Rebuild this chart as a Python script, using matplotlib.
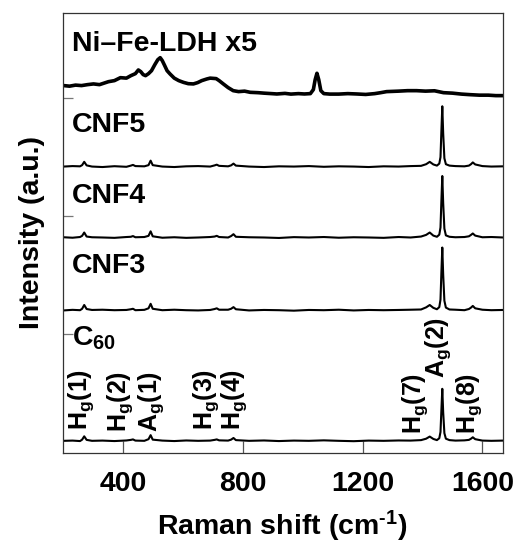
import matplotlib

matplotlib.use("Agg")

import matplotlib.pyplot as plt


plt.rcParams["font.family"] = ["Liberation Sans", "DejaVu Sans"]
plt.rcParams["font.weight"] = "bold"
plt.rcParams["mathtext.fontset"] = "custom"
plt.rcParams["mathtext.rm"] = "Liberation Sans:bold"
plt.rcParams["mathtext.it"] = "Liberation Sans:bold"
plt.rcParams["mathtext.bf"] = "Liberation Sans:bold"
plt.rcParams["mathtext.default"] = "regular"


# Raman shift grid shared by the C60 and CNF spectra (cm-1)
shift_grid = [200, 230, 255, 262, 269, 277, 295,
              330, 370, 410, 425, 432, 440,
              470, 484, 491, 498, 530,
              570, 610, 650, 690, 705, 712, 720,
              750, 760, 768, 776, 820,
              870, 920, 970, 1020, 1070, 1120, 1170, 1220, 1270, 1320,
              1360, 1395, 1412, 1424, 1436, 1448, 1456, 1460, 1463, 1466,
              1469, 1473, 1478, 1490, 1510, 1540, 1555, 1562, 1568, 1576,
              1600, 1630, 1670]

cnf5_int = [0.000, 0.004, 0.002, 0.012, 0.040, 0.010, 0.000,
            -0.004, 0.003, -0.002, 0.008, 0.014, 0.004,
            0.002, 0.012, 0.050, 0.012, 0.000,
            -0.004, 0.002, 0.004, 0.000, 0.010, 0.016, 0.006,
            0.002, 0.010, 0.025, 0.008, 0.000,
            -0.004, 0.002, 0.000, 0.004, -0.002, 0.002, 0.000, -0.004, 0.002, 0.000,
            0.004, 0.006, 0.020, 0.040, 0.018, 0.008, 0.025, 0.080, 0.300, 0.510,
            0.280, 0.070, 0.020, 0.008, 0.004, 0.002, 0.008, 0.020, 0.035, 0.018,
            0.004, 0.000, 0.002]

cnf4_int = [0.002, -0.002, 0.004, 0.014, 0.042, 0.008, 0.002,
            0.000, -0.003, 0.004, 0.006, 0.012, 0.002,
            0.004, 0.014, 0.052, 0.010, -0.002,
            0.002, -0.003, 0.000, 0.004, 0.008, 0.014, 0.004,
            0.000, 0.012, 0.028, 0.006, 0.002,
            0.000, -0.004, 0.003, 0.000, 0.004, -0.002, 0.002, 0.000, -0.003, 0.004,
            0.000, 0.008, 0.022, 0.042, 0.016, 0.006, 0.024, 0.085, 0.310, 0.520,
            0.290, 0.075, 0.018, 0.006, 0.002, 0.004, 0.010, 0.022, 0.034, 0.016,
            0.002, 0.004, 0.000]

cnf3_int = [-0.002, 0.003, 0.000, 0.012, 0.044, 0.010, 0.002,
            0.004, 0.000, 0.002, 0.008, 0.012, 0.000,
            0.003, 0.016, 0.054, 0.012, 0.000,
            0.004, 0.000, -0.002, 0.002, 0.010, 0.016, 0.004,
            0.004, 0.012, 0.026, 0.008, -0.002,
            0.002, 0.000, -0.004, 0.002, 0.000, 0.004, -0.002, 0.002, 0.000, 0.002,
            0.004, 0.006, 0.024, 0.044, 0.020, 0.008, 0.026, 0.090, 0.320, 0.530,
            0.300, 0.080, 0.022, 0.006, 0.004, 0.000, 0.010, 0.022, 0.036, 0.016,
            0.004, 0.000, 0.002]

c60_int = [0.000, 0.002, -0.002, 0.010, 0.038, 0.008, 0.000,
           0.002, -0.002, 0.003, 0.008, 0.012, 0.002,
           0.000, 0.014, 0.048, 0.010, 0.002,
           -0.002, 0.003, 0.000, 0.002, 0.008, 0.012, 0.004,
           0.002, 0.010, 0.024, 0.006, 0.000,
           0.003, -0.002, 0.002, 0.000, 0.004, 0.000, -0.003, 0.002, 0.000, 0.003,
           0.002, 0.006, 0.018, 0.036, 0.016, 0.006, 0.022, 0.075, 0.260, 0.440,
           0.240, 0.065, 0.018, 0.006, 0.002, 0.004, 0.008, 0.018, 0.030, 0.014,
           0.002, 0.000, 0.002]

# Ni-Fe-LDH spectrum (already magnified x5)
ldh_shift = [200, 220, 240, 260, 280, 300, 320, 350, 370, 390,
             410, 425, 440, 450, 458, 466, 474, 484, 494, 505,
             515, 523, 530, 538, 546, 556, 570, 585, 601, 617,
             634, 648, 662, 679, 690, 700, 710, 720, 734, 750,
             767, 785, 805, 824, 850, 870, 895, 913, 940, 960,
             985, 1005, 1025, 1035, 1041, 1047, 1053, 1060, 1070, 1090,
             1120, 1150, 1180, 1210, 1240, 1260, 1280, 1300, 1320, 1350,
             1380, 1410, 1440, 1470, 1500, 1530, 1560, 1590, 1620, 1645,
             1670]
ldh_int = [0.085, 0.080, 0.089, 0.085, 0.093, 0.099, 0.093, 0.118, 0.127, 0.152,
           0.148, 0.169, 0.186, 0.217, 0.203, 0.178, 0.169, 0.186, 0.211, 0.262,
           0.304, 0.321, 0.296, 0.254, 0.211, 0.183, 0.148, 0.127, 0.112, 0.101,
           0.099, 0.110, 0.127, 0.141, 0.148, 0.146, 0.144, 0.127, 0.099, 0.068,
           0.042, 0.034, 0.038, 0.028, 0.025, 0.021, 0.017, 0.014, 0.019, 0.013,
           0.017, 0.014, 0.017, 0.051, 0.135, 0.189, 0.135, 0.042, 0.017, 0.013,
           0.013, 0.017, 0.014, 0.010, 0.017, 0.025, 0.034, 0.036, 0.038, 0.042,
           0.042, 0.038, 0.041, 0.025, 0.021, 0.013, 0.008, 0.004, 0.004, 0.000,
           0.000]

sample_names = ["C$_{60}$", "CNF3", "CNF4", "CNF5", "Ni\u2013Fe-LDH x5"]
sample_offsets = [0.10, 1.205, 1.82, 2.42, 3.02]

mode_names = ["H$_g$(1)", "H$_g$(2)", "A$_g$(1)", "H$_g$(3)", "H$_g$(4)",
              "H$_g$(7)", "A$_g$(2)", "H$_g$(8)"]
mode_label_x = [258, 389, 493, 677, 771, 1376, 1453, 1557]
mode_label_y = [0.19, 0.175, 0.175, 0.19, 0.19, 0.16, 0.63, 0.16]


fig = plt.figure(figsize=(5.18, 5.48), dpi=100)
ax = fig.add_axes([0.121, 0.174, 0.8495, 0.8025])

spectra = [
    (shift_grid, c60_int, 1.5),
    (shift_grid, cnf3_int, 1.5),
    (shift_grid, cnf4_int, 1.5),
    (shift_grid, cnf5_int, 1.5),
    (ldh_shift, ldh_int, 2.6),
]

for (xs, ys, lw), offset in zip(spectra, sample_offsets):
    ax.plot(xs, [y + offset for y in ys], color="black", linewidth=lw,
            solid_joinstyle="round")

# sample names, top-left of each trace
name_y = [0.91, 1.52, 2.11, 2.71, 3.40]
for name, y in zip(sample_names, name_y):
    ax.text(228, y, name, fontsize=20.5, fontweight="bold", ha="left",
            va="baseline")

for name, x, y in zip(mode_names, mode_label_x, mode_label_y):
    ax.text(x, y, name, fontsize=18, rotation=90, ha="center", va="bottom")

ax.set_xlim(197, 1668)
ax.set_ylim(0, 3.72)
ax.set_xticks([400, 800, 1200, 1600])
ax.set_yticks([1, 2, 3])
ax.set_yticklabels([])

ax.tick_params(axis="x", direction="in", length=8.5, width=0.9,
               color="#555555", labelsize=20.5, pad=13)
ax.tick_params(axis="y", direction="in", length=7.5, width=0.9,
               color="#777777")

for spine in ax.spines.values():
    spine.set_linewidth(0.9)
    spine.set_color("#333333")

ax.set_xlabel("Raman shift (cm$^{\u20101}$)", fontsize=20.5,
              fontweight="bold", labelpad=9)
ax.set_ylabel("Intensity (a.u.)", fontsize=20.5, fontweight="bold",
              labelpad=9)

fig.savefig("out.png", dpi=100)
